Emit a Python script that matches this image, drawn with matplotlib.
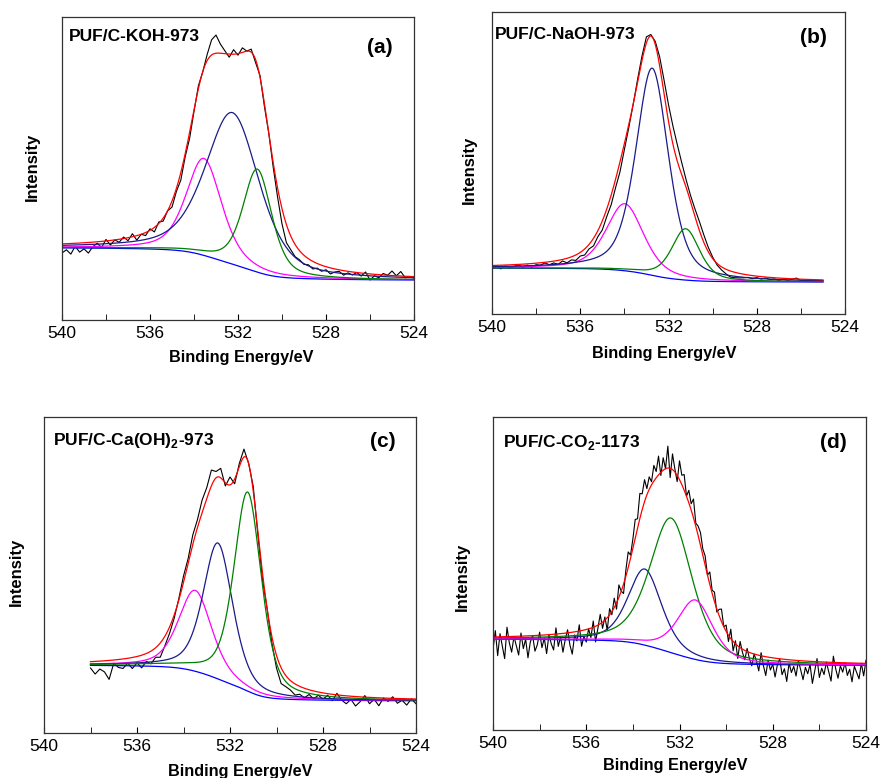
import numpy as np
import matplotlib
matplotlib.use('Agg')
import matplotlib.pyplot as plt
from matplotlib.ticker import MultipleLocator

plt.rcParams['font.family'] = ['Liberation Sans', 'DejaVu Sans']
plt.rcParams['mathtext.fontset'] = 'custom'
plt.rcParams['mathtext.rm'] = 'Liberation Sans'
plt.rcParams['mathtext.bf'] = 'Liberation Sans:bold'

MAGENTA = '#ff00ff'
NAVY = '#1a1a8c'
GREEN = '#008000'

# (a) PUF/C-KOH-973  -- intensities in fractions of the panel height,
# noise = measured minus fitted envelope (% of panel height)
range_a = (540.0, 524.0)
centers_a = [533.55, 532.25, 531.12]
heights_a = [0.32, 0.50, 0.34]
widths_a = [1.9, 2.9, 1.55]
colors_a = [MAGENTA, NAVY, GREEN]
bg_a = (0.238, 0.132)
eta_a = 0.5
noise_a = [-3, -2, -3.5, -1, -3, -2, -3.5, -1.5, -0.5, -2, 0.5, -1.5, 0, -1, 0.5, -1,
           1, -1.5, 0, -1, 0.5, -1.5, 0.5, -1, 0, -2, -1, -2.5, -1, -2, -0.5, 1,
           0, 2, 5, 6, 3, 1, -1, 1.5, -0.5, 1.5, 0, 1, -1, 0.5, -1, 0,
           -1.5, -3, -5, -6, -4.5, -4, -3, -3, -2, -2.5, -1.5, -2, -1, -2, -1, -0.5,
           -1.5, -0.5, -1, 0, -1, 0.5, -2, -0.5, -1, 0.5, 0, 1.5, 0, 1.5, -0.5, 0, -0.5]

# (b) PUF/C-NaOH-973
range_b = (540.0, 525.0)
centers_b = [533.98, 532.74, 531.22]
heights_b = [0.222, 0.686, 0.17]
widths_b = [2.0, 1.75, 1.5]
colors_b = [MAGENTA, NAVY, GREEN]
bg_b = (0.152, 0.106)
eta_b = 0.5
noise_b = [-1, -0.5, -1.2, -0.3, -1, -0.6, -0.2, -1, -0.4, -1.2, -0.5, -0.8, -0.2, -1, -0.6, -1.3,
           -0.5, -1.5, -1, -1.8, -1.2, -2, -1.5, -2.5, -2, -3, -2.5, -3.2, -2.8, -3.3, -2, -1,
           0, 1, 1.5, 2, 0.5, 1, 3, 4.5, 5.5, 6, 5.5, 4, 2.5, 2, 2.5, 3,
           2.5, 1.5, 0.5, -0.5, -1, -1.5, -2, -1.8, -1.5, -1.2, -0.8, -1, -0.5, -0.8, -0.3, -0.7,
           -0.4, -0.8, -0.3, -0.6, -0.2, 0.3, -0.5, -0.3, -0.6, -0.2, -0.5, -0.3]

# (c) PUF/C-Ca(OH)2-973
range_c = (538.0, 524.0)
centers_c = [533.50, 532.52, 531.24]
heights_c = [0.256, 0.43, 0.63]
widths_c = [1.7, 1.5, 1.4]
colors_c = [MAGENTA, NAVY, GREEN]
bg_c = (0.214, 0.102)
eta_c = 0.5
noise_c = [-2, -4, -2.5, -3.5, -6, -1, -2.5, -3, -1.5, -3.5, -2, -4, -2.5, -4, -3, -4.5,
           -3, -2, -1, 0.5, 2, 1.5, 3, 2.5, 4, 3.5, 5, 2, 3, -1, 2.5, -1.5,
           1, 2.5, 0, 1.5, -1, -2, 0, -2, -4, -5, -3.5, -3, -3.5, -2.5, -3, -1.5,
           -2.5, -1, -2, -0.5, -2, 0.5, -1.5, -2.5, -1, -3, -1.5, 0.5, -2, -0.5, -2.5, 0,
           -1, 0.5, -1.5, -0.5, -2, 0, -1.5]

# (d) PUF/C-CO2-1173  (noise read every 0.1 eV)
range_d = (540.0, 524.0)
centers_d = [533.49, 532.36, 531.32]
heights_d = [0.243, 0.43, 0.19]
widths_d = [1.7, 2.15, 1.8]
colors_d = [NAVY, GREEN, MAGENTA]
bg_d = (0.290, 0.207)
eta_d = 0.5
noise_d = [-4, 2, -6, 1, -3, -7, 3, -2, -5, 0, -3,
           -6, 1, -4, -1, -7, -2, 0, -5, -3, 1,
           -4, -1, -6, 0, -3, -5, 2, -4, -1, -6,
           -2, 1, -4, -7, -1, -3, 2, -5, -2, -4,
           0, -3, 2, -5, -1, 3, -2, 1, -4, 2,
           -1, 3, -2, 4, 0, -3, 2, 5, 1, 3,
           6, 3, 8, 5, 7, 2, 4, 1, 5, 2,
           6, -1, 4, 0, 7, -3, 5, 1, -2, 6,
           3, 5, 0, 4, 2, 6, 1, 3, 4, 2,
           3, 0, 4, 1, 3, -1, 2, 4, 0, 2,
           -2, 3, -3, 1, -4, 2, -1, -3, 1, -2,
           -4, 0, -2, -5, 1, -3, -6, -1, -4, -2,
           -6, -2, 0, -5, -3, -7, -1, -4, -2, -5,
           0, -3, -6, -2, -4, -1, -7, -3, 1, -5,
           -2, -4, 0, -3, -6, 2, -2, -5, -1, -3,
           0, -4, -2, -6, -1, -3, -5, 0, -4, 1]

titles = ['PUF/C-KOH-973', 'PUF/C-NaOH-973',
          r'PUF/C-Ca(OH)$_{\mathbf{2}}$-973', r'PUF/C-CO$_{\mathbf{2}}$-1173']
tags = ['(a)', '(b)', '(c)', '(d)']


def peak(e, c, h, w, eta):
    # pseudo-Voigt (Gaussian-Lorentzian sum), w = FWHM
    x = (e - c) / w
    return h * (eta / (1 + 4 * x**2) + (1 - eta) * np.exp(-4 * np.log(2) * x**2))


def draw_panel(ax, e_range, centers, heights, widths, colors, bg, eta, noise):
    n = int(round((e_range[0] - e_range[1]) / 0.02)) + 1
    e = np.linspace(e_range[0], e_range[1], n)
    peaks = [peak(e, c, h, w, eta) for c, h, w in zip(centers, heights, widths)]
    total = np.sum(peaks, axis=0)
    # Shirley type background
    area = np.cumsum(total[::-1])[::-1]
    shirley = bg[1] + (bg[0] - bg[1]) * area / area[0]
    env = shirley + total

    step = (n - 1) // (len(noise) - 1)
    ax.plot(e[::step], env[::step] + np.array(noise) / 100, color='black', lw=0.8)
    ax.plot(e, shirley, color='#0000ff', lw=0.9)
    for p, col in zip(peaks, colors):
        ax.plot(e, shirley + p, color=col, lw=0.9)
    ax.plot(e, env, color='#ff0000', lw=0.9)

    ax.set_xlim(540, 524)
    ax.set_ylim(0, 1)
    ax.set_yticks([])
    ax.xaxis.set_major_locator(MultipleLocator(4))
    ax.xaxis.set_minor_locator(MultipleLocator(2))
    ax.tick_params(axis='x', which='both', direction='in', length=4, labelsize=12.5, pad=4)
    for s in ax.spines.values():
        s.set_linewidth(0.9)
        s.set_color('#333333')


W, H = 881, 778
fig = plt.figure(figsize=(W / 100, H / 100), dpi=100)

# panel boxes in pixels: left, right, top, bottom
boxes = [(62, 414, 17, 320), (492, 845, 12, 314), (44, 416, 417, 733), (493, 866, 417, 730)]
axes = [fig.add_axes([l / W, (H - b) / H, (r - l) / W, (b - t) / H]) for l, r, t, b in boxes]

draw_panel(axes[0], range_a, centers_a, heights_a, widths_a, colors_a, bg_a, eta_a, noise_a)
draw_panel(axes[1], range_b, centers_b, heights_b, widths_b, colors_b, bg_b, eta_b, noise_b)
draw_panel(axes[2], range_c, centers_c, heights_c, widths_c, colors_c, bg_c, eta_c, noise_c)
draw_panel(axes[3], range_d, centers_d, heights_d, widths_d, colors_d, bg_d, eta_d, noise_d)

# text positions in axes coordinates
title_pos = [(0.02, 0.934), (0.008, 0.924), (0.024, 0.927), (0.027, 0.92)]
tag_pos = [(0.903, 0.898), (0.912, 0.914), (0.911, 0.921), (0.912, 0.92)]
xlab_pos = [(0.508, -0.125), (0.487, -0.132), (0.527, -0.123), (0.489, -0.115)]
ylab_pos = [(-0.085, 0.505), (-0.065, 0.477), (-0.075, 0.51), (-0.083, 0.489)]
for i, ax in enumerate(axes):
    ax.text(*title_pos[i], titles[i], transform=ax.transAxes, fontsize=12.5,
            fontweight='bold', ha='left', va='center')
    ax.text(*tag_pos[i], tags[i], transform=ax.transAxes, fontsize=15,
            fontweight='bold', ha='center', va='center')
    ax.text(*xlab_pos[i], 'Binding Energy/eV', transform=ax.transAxes, fontsize=11.7,
            fontweight='bold', ha='center', va='center')
    ax.text(*ylab_pos[i], 'Intensity', transform=ax.transAxes, fontsize=12,
            fontweight='bold', ha='center', va='center', rotation=90)

fig.savefig('out.png', dpi=100)
